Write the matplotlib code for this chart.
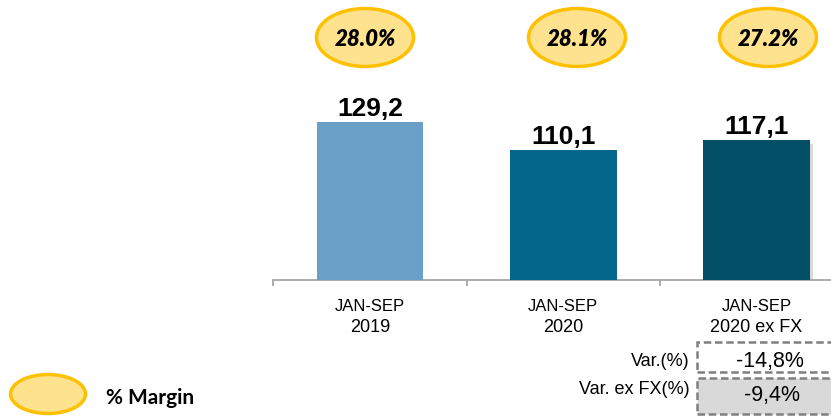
import matplotlib
matplotlib.use('Agg')
from matplotlib import pyplot as plt
from matplotlib.patches import Ellipse, Rectangle

W, H = 831, 417

periods = ['JAN-SEP', 'JAN-SEP', 'JAN-SEP']
years = ['2019', '2020', '2020 ex FX']
values = [129.2, 110.1, 117.1]
value_labels = ['129,2', '110,1', '117,1']
margins = ['28.0%', '28.1%', '27.2%']
var_names = ['Var.(%)', 'Var. ex FX(%)']
var_values = ['-14,8%', '-9,4%']
bar_colors = ['#6A9FC8', '#03668A', '#034F68']


# 像素坐标 -> figure 比例坐标
def fx(x):
    return x / W


def fy(y):
    return 1 - y / H


fig = plt.figure(figsize=(W / 100, H / 100), dpi=100)
ax = fig.add_axes([fx(273.3), fy(280), 1 - fx(273.3), 280 / H])

x = list(range(len(values)))
ax.set_xlim(-0.5, -0.5 + (W - 273.3) / 193.3)
ax.set_ylim(20.5, 20.5 + 280 / 1.45)

ax.bar(x, values, width=0.552, color=bar_colors, zorder=3)
# 第三根柱子右侧的阴影
ax.bar(2.018, values[2] - 20.5 - 3, width=0.552, bottom=20.5, color='#c0c0c0',
       alpha=0.6, zorder=2)

for i, v in enumerate(values):
    ax.annotate(value_labels[i], (i, v), xytext=(0, 4.5), textcoords='offset points',
                ha='center', va='baseline', fontsize=19, fontweight='bold',
                family='Liberation Sans', zorder=4)

for s in ['top', 'right', 'left']:
    ax.spines[s].set_visible(False)
ax.spines['bottom'].set_color('#a6a6a6')
ax.spines['bottom'].set_linewidth(1.3)
ax.set_yticks([])
ax.set_xticks([-0.5, 0.5, 1.5])
ax.set_xticklabels([])
ax.tick_params(axis='x', length=4, color='#a6a6a6', width=1.3)

# x轴标签，两行分开画
tr = ax.get_xaxis_transform()
for i in x:
    ax.text(i, -31 / 280, periods[i], transform=tr, ha='center', va='baseline',
            fontsize=12, family='Liberation Sans')
    ax.text(i, -52.3 / 280, years[i], transform=tr, ha='center', va='baseline',
            fontsize=13, family='Liberation Sans')

# 利润率椭圆
ell_x = [365, 577, 768]
for cx, m in zip(ell_x, margins):
    fig.add_artist(Ellipse((fx(cx), fy(37.5)), 97 / W, 58 / H, facecolor='#FFE28E',
                           edgecolor='#FFC000', linewidth=2.5))
    fig.text(fx(cx), fy(45.5), m, ha='center', va='baseline', fontsize=16,
             fontweight='heavy', style='italic', family='Lato')

# 变化表格
fig.add_artist(Rectangle((fx(697), fy(372)), fx(200), 30 / H, facecolor='white',
                         edgecolor='#7f7f7f', linestyle=(0, (3, 1.5)), linewidth=1.8))
fig.add_artist(Rectangle((fx(697), fy(414)), fx(200), 36 / H, facecolor='#D9D9D9',
                         edgecolor='#7f7f7f', linestyle=(0, (3, 1.5)), linewidth=1.8))
fig.text(fx(690), fy(361), var_names[0], ha='right', va='center', fontsize=13,
         family='Liberation Sans')
fig.text(fx(690), fy(389), var_names[1], ha='right', va='center', fontsize=13,
         family='Liberation Sans')
fig.text(fx(770), fy(361), var_values[0], ha='center', va='center', fontsize=15.5,
         family='Liberation Sans')
fig.text(fx(772), fy(395), var_values[1], ha='center', va='center', fontsize=15.5,
         family='Liberation Sans')

# 图例
fig.add_artist(Ellipse((fx(48), fy(394)), 75 / W, 39 / H, facecolor='#FFE28E',
                       edgecolor='#FFC000', linewidth=2.5))
fig.text(fx(106), fy(404), '% Margin', ha='left', va='baseline', fontsize=15,
         fontweight='bold', family='Lato')

fig.savefig('out.png', dpi=100)
